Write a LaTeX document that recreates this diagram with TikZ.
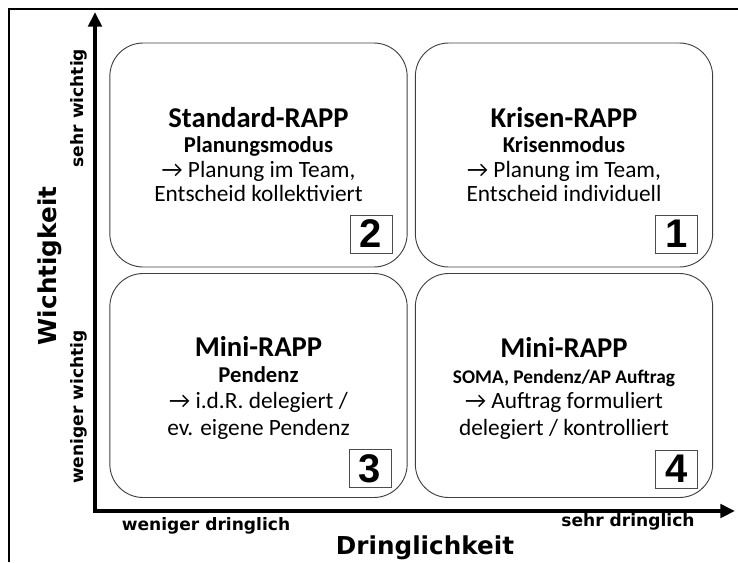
\documentclass[tikz,border=0pt]{standalone}
\usepackage{fontspec}
\setmainfont{Carlito}
\newfontfamily\axisfont{DejaVu Sans}
\newfontfamily\numfont{Liberation Sans}
\usetikzlibrary{arrows.meta}
\begin{document}
\begin{tikzpicture}[x=0.75pt,y=-0.75pt,
  quad/.style={draw=black!75, line width=0.7pt, rounded corners=25pt,
    minimum width=223pt, minimum height=168pt, inner sep=0pt},
  numbox/.style={draw=black!70, line width=0.6pt, minimum width=31.5pt,
    minimum height=28.5pt, inner sep=0pt, font=\numfont\bfseries\fontsize{30}{30}\selectfont},
  ttl/.style={anchor=base, inner sep=0pt, font=\bfseries\fontsize{21.5}{21.5}\selectfont},
  sub/.style={anchor=base, inner sep=0pt, font=\bfseries\fontsize{17}{17}\selectfont},
  subsm/.style={anchor=base, inner sep=0pt, font=\bfseries\fontsize{14.5}{14.5}\selectfont},
  body/.style={anchor=base, inner sep=0pt, font=\fontsize{17.5}{17.5}\selectfont},
  axsmall/.style={inner sep=0pt, font=\axisfont\bfseries\fontsize{12.8}{12.8}\selectfont},
  axbig/.style={inner sep=0pt, font=\axisfont\bfseries\fontsize{18.5}{18.5}\selectfont},
  frame/.style={line width=1.5pt},
  axis/.style={line width=3pt, {Triangle[length=11pt,width=10pt]}-{Triangle[length=11pt,width=10pt]}}
]
\useasboundingbox (0,0) rectangle (738,562);
% frame
\coordinate (FL) at (9,562);
\coordinate (FC) at (9,9);
\coordinate (FR) at (738,9);
\draw[frame] (FL) -- (FC) -- (FR);
% axes
\coordinate (O) at (95,511);
\coordinate (YT) at (95,12);
\coordinate (XT) at (735,511);
\draw[axis] (YT) -- (O) -- (XT);
% quadrants
\node[quad] (q2) at (258.5,155) {};
\node[quad] (q1) at (564,155) {};
\node[quad] (q3) at (258.5,385.5) {};
\node[quad] (q4) at (564,385.5) {};
% numbers
\node[numbox] (n2) at (371,234) {2};
\node[numbox] (n1) at (676.5,234) {1};
\node[numbox] (n3) at (370,468.5) {3};
\node[numbox] (n4) at (676.5,469) {4};
% texts quadrant 2
\node[ttl]  (t2a) at (258.5,127) {Standard-RAPP};
\node[sub]  (t2b) at (258.5,152) {Planungsmodus};
\node[body] (t2c) at (258.5,177) {→ Planung im Team,};
\node[body] (t2d) at (258.5,201) {Entscheid kollektiviert};
% quadrant 1
\node[ttl]  (t1a) at (564,127) {Krisen-RAPP};
\node[sub]  (t1b) at (564,152) {Krisenmodus};
\node[body] (t1c) at (564,177) {→ Planung im Team,};
\node[body] (t1d) at (564,201) {Entscheid individuell};
% quadrant 3
\node[ttl]  (t3a) at (258.5,356) {Mini-RAPP};
\node[sub]  (t3b) at (258.5,382) {Pendenz};
\node[body] (t3c) at (258.5,408) {→ i.d.R. delegiert /};
\node[body] (t3d) at (258.5,435) {ev. eigene Pendenz};
% quadrant 4
\node[ttl]  (t4a) at (564,357) {Mini-RAPP};
\node[subsm] (t4b) at (564,383) {SOMA, Pendenz/AP Auftrag};
\node[body] (t4c) at (564,408) {→ Auftrag formuliert};
\node[body] (t4d) at (564,435) {delegiert / kontrolliert};
% axis labels
\node[axbig, rotate=90] (lw) at (50,266) {Wichtigkeit};
\node[axsmall, rotate=90] (lsw) at (79,108) {sehr wichtig};
\node[axsmall, rotate=90] (lww) at (79,407) {weniger wichtig};
\node[axsmall] (lwd) at (206,526) {weniger dringlich};
\node[axbig] (ld) at (425,548) {Dringlichkeit};
\node[axsmall] (lsd) at (628,522) {sehr dringlich};
\end{tikzpicture}
\end{document}
